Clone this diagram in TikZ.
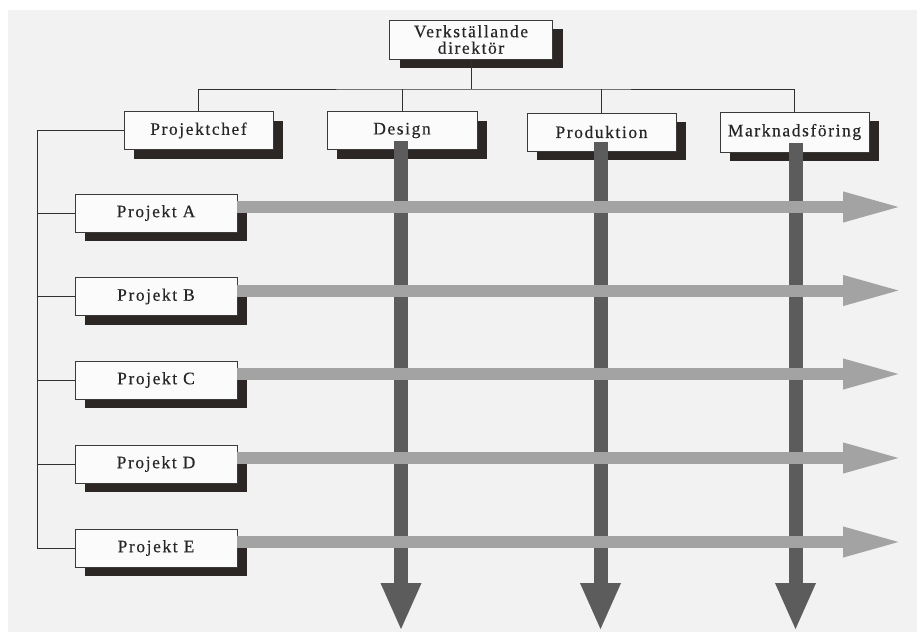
\documentclass[tikz,border=0pt]{standalone}
\usepackage{fontspec}
\setmainfont[LetterSpace=9,FakeBold=0.4]{Liberation Serif}
\usetikzlibrary{shadows,arrows.meta}
\definecolor{bgcol}{HTML}{F2F2F2}
\definecolor{boxfill}{HTML}{FBFBFB}
\definecolor{boxline}{HTML}{3A3A3A}
\definecolor{shadowcol}{HTML}{2C2724}
\definecolor{vcol}{HTML}{5C5C5C}
\definecolor{hcol}{HTML}{A3A3A3}
\definecolor{linecol}{HTML}{303030}
\tikzset{
  orgbox/.style={draw=boxline, line width=0.9pt, fill=boxfill, inner sep=0pt,
    minimum height=38pt, align=center, font=\fontsize{17.5}{16.5}\selectfont,
    text=black!85,
    drop shadow={shadow xshift=10pt, shadow yshift=-9pt, fill=shadowcol, opacity=1}},
  conn/.style={draw=linecol, line width=0.9pt},
  varrow/.style={draw=vcol, line width=14pt, -{Triangle[width=37pt,length=48pt]}},
  harrow/.style={draw=hcol, line width=12pt, -{Triangle[width=27pt,length=61pt]}}
}
\begin{document}
\begin{tikzpicture}[x=1pt,y=-1pt]
\useasboundingbox (0,0) rectangle (917,632);
\fill[white] (0,0) rectangle (917,632);
\fill[bgcol] (8,10) rectangle (917,632);

% boxes
\node[orgbox, minimum width=163pt, minimum height=39pt] (vd) at (471,39.5) {Verkställande\\direktör};
\node[orgbox, minimum width=149pt] (pc) at (198.5,130.5) {Projektchef};
\node[orgbox, minimum width=150pt] (de) at (402,130.5) {Design};
\node[orgbox, minimum width=149pt] (pr) at (601.5,132) {Produktion};
\node[orgbox, minimum width=149pt, minimum height=40pt] (ma) at (794.5,132) {Marknadsföring};

\node[orgbox, minimum width=162pt] (pa) at (156,213) {Projekt A};
\node[orgbox, minimum width=162pt] (pb) at (156,296.5) {Projekt B};
\node[orgbox, minimum width=162pt] (pcc) at (156,380) {Projekt C};
\node[orgbox, minimum width=162pt] (pd) at (156,464) {Projekt D};
\node[orgbox, minimum width=162pt] (pe) at (156,548) {Projekt E};

% tree connectors
\coordinate (bus) at (471,89);
\coordinate (lft) at (37,0);
\draw[conn] (vd.south) -- (bus);
\draw[conn] (pc.north) |- (bus) -| (ma.north);
\draw[conn] (de.north) -- (de.north |- bus);
\draw[conn] (pr.north) -- (pr.north |- bus);
\draw[conn] (pc.west) -| (lft |- pe.west) -- (pe.west);
\foreach \p in {pa,pb,pcc,pd} \draw[conn] (lft |- \p.west) -- (\p.west);

% vertical arrows
\coordinate (vend) at (0,631);
\draw[varrow] ([xshift=-1pt,yshift=9pt]de.south) -- ([xshift=-1pt]de.south |- vend);
\draw[varrow] ([xshift=-1pt,yshift=9pt]pr.south) -- ([xshift=-1pt]pr.south |- vend);
\draw[varrow] ([xshift=1pt,yshift=9pt]ma.south) -- ([xshift=1pt]ma.south |- vend);

% horizontal arrows
\coordinate (hend) at (904,0);
\foreach \p in {pa,pb,pcc,pd,pe}
  \draw[harrow] ([yshift=6pt]\p.east) -- ([yshift=6pt]\p.east -| hend);
\end{tikzpicture}
\end{document}
